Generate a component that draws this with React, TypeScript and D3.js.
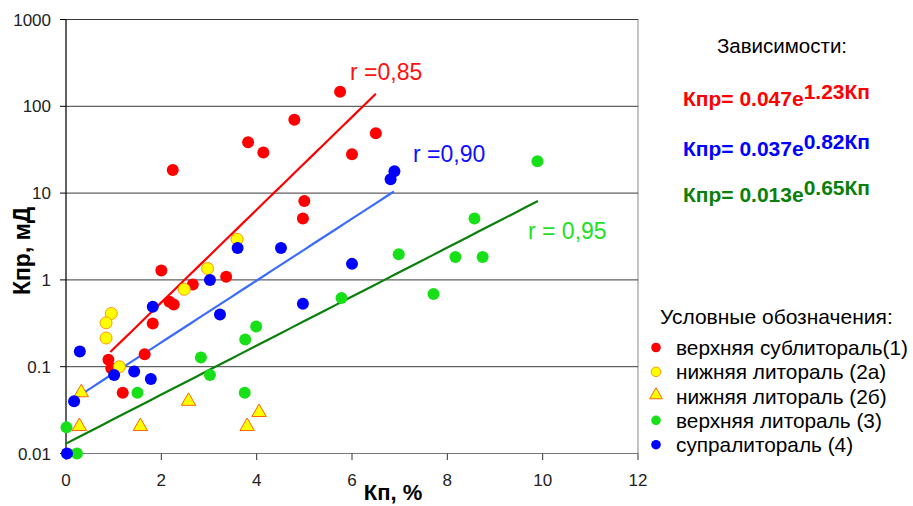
import React from "react";
import * as d3 from "d3";

// point series: [Кп %, Кпр мД]
const sublittoral: [number, number][] = [
  [5.75, 147], [4.79, 70], [6.5, 49], [3.82, 38.5], [4.14, 29.4], [6.0, 28],
  [2.24, 18.4], [5.0, 8.1], [4.97, 5.1], [2.0, 1.28], [3.36, 1.09], [2.66, 0.885],
  [2.17, 0.56], [2.26, 0.52], [1.82, 0.315], [1.65, 0.139], [0.89, 0.12],
  [0.95, 0.096], [1.19, 0.05],
];
const lowerLittoralA: [number, number][] = [
  [3.59, 2.94], [2.97, 1.35], [2.48, 0.78], [0.95, 0.41], [0.84, 0.32],
  [0.84, 0.214], [1.12, 0.1],
];
const lowerLittoralB: [number, number][] = [
  [0.32, 0.049], [0.28, 0.02], [1.56, 0.02], [2.57, 0.039], [3.8, 0.02], [4.05, 0.029],
];
const upperLittoral: [number, number][] = [
  [9.89, 23.3], [8.57, 5.1], [6.98, 1.98], [8.17, 1.84], [8.74, 1.84], [7.71, 0.69],
  [5.78, 0.62], [3.99, 0.29], [3.76, 0.206], [2.83, 0.128], [3.02, 0.08],
  [1.5, 0.05], [3.75, 0.05], [0.01, 0.02], [0.23, 0.01],
];
const supralittoral: [number, number][] = [
  [6.89, 17.9], [6.81, 14.4], [3.6, 2.33], [4.51, 2.33], [6.0, 1.53], [4.97, 0.53],
  [3.02, 1.0], [3.23, 0.4], [1.82, 0.49], [0.29, 0.15], [1.01, 0.08], [1.43, 0.088],
  [1.78, 0.072], [0.17, 0.04], [0.02, 0.01],
];

// trend lines Кпр = a * e^(b*Кп), drawn over [from, to]
const trends = [
  { a: 0.047, b: 1.23, from: 0.93, to: 6.5, color: "#ff0000", label: "r =0,85", lx: 350, ly: 80, lc: "#ff1010" },
  { a: 0.037, b: 0.82, from: 0.05, to: 6.88, color: "#3a6cff", label: "r =0,90", lx: 413, ly: 162, lc: "#1010ff" },
  { a: 0.013, b: 0.65, from: 0, to: 9.9, color: "#0a800a", label: "r = 0,95", lx: 528, ly: 239, lc: "#22e022" },
];

const formulas = [
  { main: "Кпр= 0.047e", sup: "1.23Кп", color: "#ff0000", y: 106 },
  { main: "Кпр= 0.037e", sup: "0.82Кп", color: "#0000ff", y: 156 },
  { main: "Кпр= 0.013e", sup: "0.65Кп", color: "#0a800a", y: 202 },
];

const legendItems = [
  { label: "верхняя сублитораль(1)", kind: "circle", fill: "#ff0000", stroke: "none" },
  { label: "нижняя литораль (2а)", kind: "circle", fill: "#ffff00", stroke: "#ff9900" },
  { label: "нижняя литораль (2б)", kind: "triangle", fill: "#ffff00", stroke: "#ff6600" },
  { label: "верхняя литораль (3)", kind: "circle", fill: "#18e018", stroke: "none" },
  { label: "супралитораль (4)", kind: "circle", fill: "#0000ff", stroke: "none" },
];

const xTicks = [0, 2, 4, 6, 8, 10, 12];
const yTicks = [0.01, 0.1, 1, 10, 100, 1000];
const yTickLabels = ["0.01", "0.1", "1", "10", "100", "1000"];

const W = 913;
const H = 506;
const font = "Arial, 'Liberation Sans', sans-serif";

export default function App() {
  const x = d3.scaleLinear().domain([0, 12]).range([66, 638]);
  const y = d3.scaleLog().domain([0.01, 1000]).range([453.5, 19.5]);

  const tri = d3.symbol().type(d3.symbolTriangle).size(90);
  const triSmall = d3.symbol().type(d3.symbolTriangle).size(70);

  const series = [
    { data: sublittoral, kind: "circle", fill: "#ff0000", stroke: "none" },
    { data: lowerLittoralA, kind: "circle", fill: "#ffff00", stroke: "#ff9900" },
    { data: lowerLittoralB, kind: "triangle", fill: "#ffff00", stroke: "#ff6600" },
    { data: upperLittoral, kind: "circle", fill: "#18e018", stroke: "none" },
    { data: supralittoral, kind: "circle", fill: "#0000ff", stroke: "none" },
  ];

  return (
    <svg
      width={W}
      height={H}
      style={{ position: "absolute", left: 0, top: 0, background: "#fff" }}
      fontFamily={font}
    >
      {/* plot frame */}
      <rect x={66} y={19.5} width={572} height={434} fill="none" stroke="#8a8a8a" />
      {/* gridlines */}
      {yTicks.map((t) => (
        <line key={t} x1={66} x2={638} y1={y(t)} y2={y(t)} stroke={t === 0.01 ? "#777" : "#3a3a3a"} />
      ))}
      {/* left axis */}
      <line x1={66} x2={66} y1={19.5} y2={453.5} stroke="#000" />
      {yTicks.map((t, i) => (
        <g key={"yt" + t}>
          <line x1={60} x2={66} y1={y(t)} y2={y(t)} stroke="#000" />
          <text x={51} y={y(t) + 6} textAnchor="end" fontSize={17} fill="#222">
            {yTickLabels[i]}
          </text>
        </g>
      ))}
      {xTicks.map((t) => (
        <g key={"xt" + t}>
          <line x1={x(t)} x2={x(t)} y1={453.5} y2={460} stroke="#333" />
          <text x={x(t)} y={486} textAnchor="middle" fontSize={17} fill="#222">
            {t}
          </text>
        </g>
      ))}

      {/* trend lines */}
      {trends.map((tr) => {
        const xs = d3.range(0, 41).map((i) => tr.from + ((tr.to - tr.from) * i) / 40);
        const path = d3
          .line<number>()
          .x((d) => x(d))
          .y((d) => y(tr.a * Math.exp(tr.b * d)))(xs);
        return (
          <path key={"p" + tr.label} d={path ?? ""} fill="none" stroke={tr.color} strokeWidth={2.2} />
        );
      })}

      {/* points */}
      {series.map((s, si) =>
        s.data.map((d, i) =>
          s.kind === "triangle" ? (
            <path
              key={si + "-" + i}
              d={tri() ?? ""}
              transform={`translate(${x(d[0])},${y(d[1]) - 1})`}
              fill={s.fill}
              stroke={s.stroke}
              strokeWidth={1}
            />
          ) : (
            <circle
              key={si + "-" + i}
              cx={x(d[0])}
              cy={y(d[1])}
              r={6}
              fill={s.fill}
              stroke={s.stroke}
              strokeWidth={1}
            />
          )
        )
      )}

      {/* r labels */}
      {trends.map((tr) => (
        <text key={"l" + tr.label} x={tr.lx} y={tr.ly} fontSize={23} fill={tr.lc}>
          {tr.label}
        </text>
      ))}

      {/* axis titles */}
      <text
        transform="translate(30,251) rotate(-90)"
        textAnchor="middle"
        fontSize={23}
        fontWeight="bold"
        fill="#000"
      >
        Кпр, мД
      </text>
      <text x={393} y={500} textAnchor="middle" fontSize={22} fontWeight="bold" fill="#000">
        Кп, %
      </text>

      {/* formulas */}
      <text x={782} y={53} textAnchor="middle" fontSize={20.5} fill="#000">
        Зависимости:
      </text>
      {formulas.map((f) => (
        <text key={f.sup} x={683} y={f.y} fontSize={21} fontWeight="bold" fill={f.color}>
          {f.main}
          <tspan dy={-7}>{f.sup}</tspan>
        </text>
      ))}

      {/* legend */}
      <text x={660} y={324} fontSize={21} fill="#000">
        Условные обозначения:
      </text>
      {legendItems.map((it, i) => {
        const cy = 347.5 + i * 24.3;
        return (
          <g key={it.label}>
            {it.kind === "triangle" ? (
              <path
                d={triSmall() ?? ""}
                transform={`translate(656,${cy - 1})`}
                fill={it.fill}
                stroke={it.stroke}
              />
            ) : (
              <circle cx={656} cy={cy} r={4.8} fill={it.fill} stroke={it.stroke} />
            )}
            <text x={676} y={cy + 7.5} fontSize={20.8} fill="#000">
              {it.label}
            </text>
          </g>
        );
      })}
    </svg>
  );
}
